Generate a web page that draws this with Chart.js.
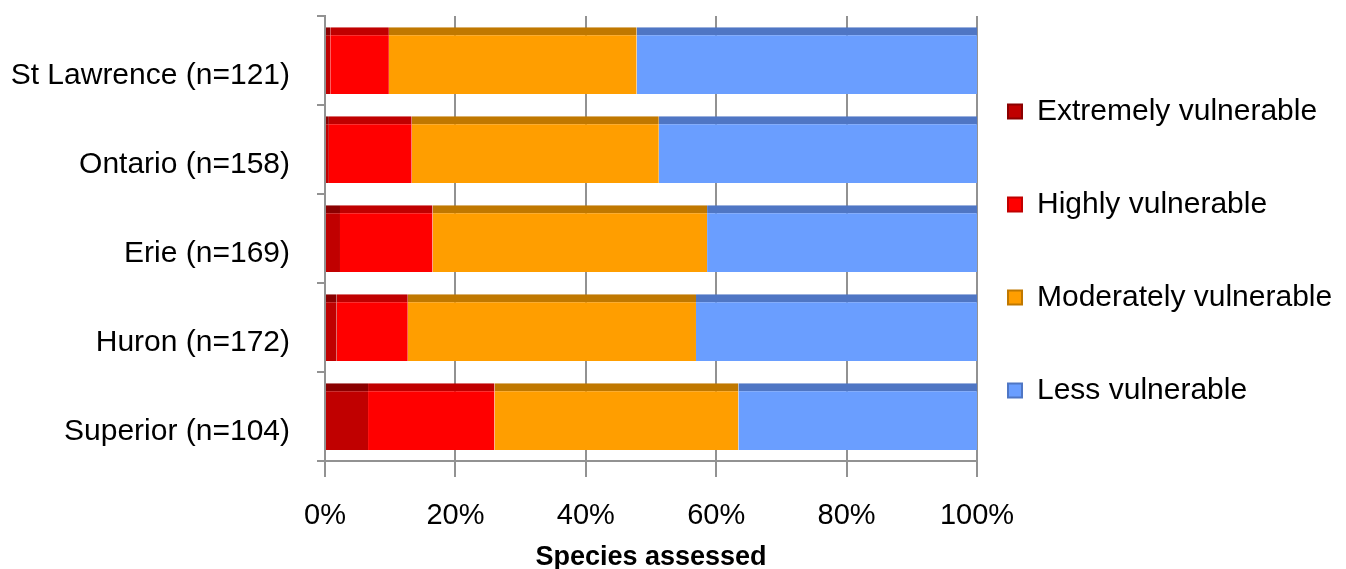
<!DOCTYPE html>
<html>
<head>
<meta charset="utf-8">
<script src="https://cdn.jsdelivr.net/npm/chart.js@4/dist/chart.umd.min.js"></script>
<style>
html,body{margin:0;padding:0;background:#fff;}
#wrap{width:1346px;height:569px;position:relative;}
</style>
</head>
<body>
<div id="wrap"><canvas id="c" width="1346" height="569"></canvas></div>
<script>
const categories = ["St Lawrence (n=121)", "Ontario (n=158)", "Erie (n=169)", "Huron (n=172)", "Superior (n=104)"];
const seriesNames = ["Extremely vulnerable", "Highly vulnerable", "Moderately vulnerable", "Less vulnerable"];
const extremely = [0.8, 0.6, 2.3, 1.8, 6.6];
const highly = [9.0, 12.7, 14.2, 10.9, 19.4];
const moderately = [38.0, 37.9, 42.1, 44.2, 37.4];
const less = [52.2, 48.8, 41.4, 43.1, 36.6];
const xTicks = [0, 20, 40, 60, 80, 100];

const faceColors = ["#C00000", "#FF0000", "#FF9E00", "#6A9EFF"];
const topColors = ["#8A0000", "#C00000", "#C07800", "#4F76C4"];
const values = [extremely, highly, moderately, less];

const datasets = seriesNames.map((name, i) => ({
  label: name,
  data: values[i],
  backgroundColor: faceColors[i],
  borderColor: topColors[i],
  borderWidth: {top: 8, bottom: 0, left: 0, right: 0},
  borderSkipped: false,
  barPercentage: 0.75,
  categoryPercentage: 1.0
}));

const font = "'Liberation Sans', Arial, sans-serif";

// place the legend like the reference (box left x, block centre y)
const legendPlace = {
  id: 'legendPlace',
  afterLayout(chart) {
    const lg = chart.legend;
    if (!lg) return;
    const pad = lg.options.labels.padding;
    lg.left = 1008 - pad;
    lg.right = 1346;
    lg.width = lg.right - lg.left;
    const centre = (lg.top + lg.bottom) / 2;
    const dy = 251 - centre;
    lg.top += dy; lg.bottom += dy;
  }
};

new Chart(document.getElementById('c'), {
  type: 'bar',
  data: { labels: categories, datasets },
  plugins: [legendPlace],
  options: {
    indexAxis: 'y',
    responsive: false,
    animation: false,
    layout: { padding: { left: 0, right: 0, top: 16, bottom: 0 } },
    scales: {
      x: {
        stacked: true,
        min: 0, max: 100,
        afterBuildTicks: (axis) => { axis.ticks = xTicks.map(v => ({ value: v })); },
        afterFit: (scale) => { scale.height = 108; },
        ticks: {
          callback: (v) => v + '%',
          color: '#000',
          font: { family: font, size: 29 },
          padding: 22
        },
        grid: { color: '#929292', lineWidth: 2, tickLength: 16, drawTicks: true },
        border: { color: '#929292', width: 2 },
        title: {
          display: true, text: 'Species assessed', color: '#000',
          font: { family: font, size: 27, weight: 'bold' }, padding: { top: 0, bottom: -5 }
        }
      },
      y: {
        stacked: true,
        afterFit: (scale) => { scale.width = 325; scale.paddingTop = 0; scale.paddingBottom = 0; },
        ticks: {
          color: '#000',
          font: { family: font, size: 30 },
          padding: 27,
          labelOffset: 15
        },
        grid: { drawOnChartArea: false, color: '#929292', lineWidth: 2, tickLength: 8, offset: true },
        border: { color: '#929292', width: 2 }
      }
    },
    plugins: {
      legend: {
        position: 'right',
        maxWidth: 369,
        labels: {
          color: '#000',
          font: { family: font, size: 30 },
          boxWidth: 14,
          boxHeight: 14,
          padding: 63
        }
      },
      tooltip: { enabled: false }
    }
  }
});
</script>
</body>
</html>
